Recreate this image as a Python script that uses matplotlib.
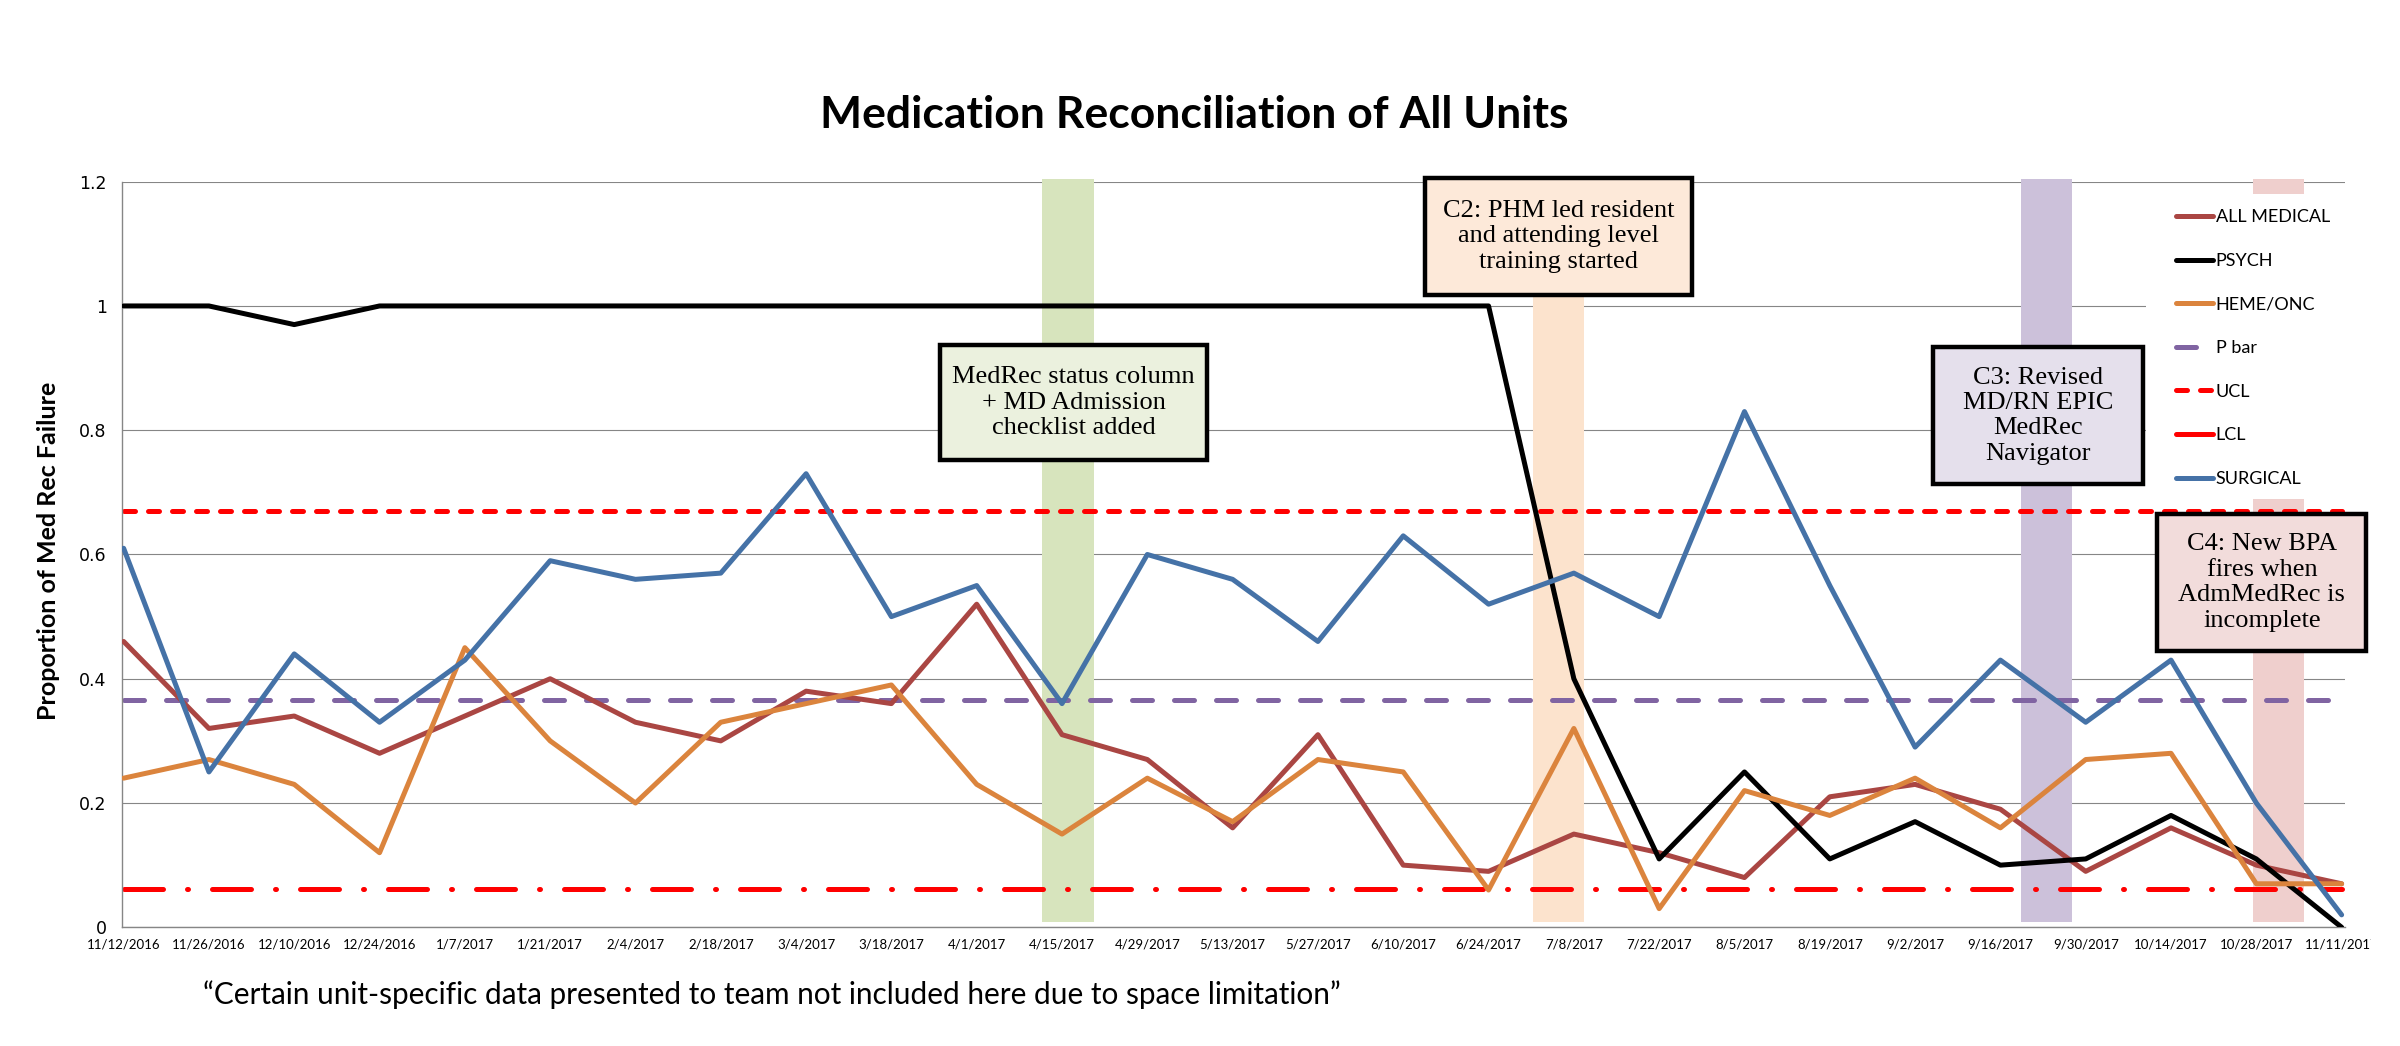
import matplotlib
matplotlib.use("Agg")
import matplotlib.pyplot as plt
from matplotlib.patches import Rectangle
from matplotlib.transforms import Bbox, TransformedBbox
import numpy as np

# biweekly periods
dates = ["11/12/2016", "11/26/2016", "12/10/2016", "12/24/2016", "1/7/2017",
         "1/21/2017", "2/4/2017", "2/18/2017", "3/4/2017", "3/18/2017",
         "4/1/2017", "4/15/2017", "4/29/2017", "5/13/2017", "5/27/2017",
         "6/10/2017", "6/24/2017", "7/8/2017", "7/22/2017", "8/5/2017",
         "8/19/2017", "9/2/2017", "9/16/2017", "9/30/2017", "10/14/2017",
         "10/28/2017", "11/11/2017"]

all_medical = [0.46, 0.32, 0.34, 0.28, 0.34, 0.40, 0.33, 0.30, 0.38, 0.36,
               0.52, 0.31, 0.27, 0.16, 0.31, 0.10, 0.09, 0.15, 0.12, 0.08,
               0.21, 0.23, 0.19, 0.09, 0.16, 0.10, 0.07]
psych = [1.0, 1.0, 0.97, 1.0, 1.0, 1.0, 1.0, 1.0, 1.0, 1.0,
         1.0, 1.0, 1.0, 1.0, 1.0, 1.0, 1.0, 0.40, 0.11, 0.25,
         0.11, 0.17, 0.10, 0.11, 0.18, 0.11, 0.0]
heme_onc = [0.24, 0.27, 0.23, 0.12, 0.45, 0.30, 0.20, 0.33, 0.36, 0.39,
            0.23, 0.15, 0.24, 0.17, 0.27, 0.25, 0.06, 0.32, 0.03, 0.22,
            0.18, 0.24, 0.16, 0.27, 0.28, 0.07, 0.07]
surgical = [0.61, 0.25, 0.44, 0.33, 0.43, 0.59, 0.56, 0.57, 0.73, 0.50,
            0.55, 0.36, 0.60, 0.56, 0.46, 0.63, 0.52, 0.57, 0.50, 0.83,
            0.55, 0.29, 0.43, 0.33, 0.43, 0.20, 0.02]
p_bar = 0.366
ucl = 0.67
lcl = 0.062

ytick_labels = ["0", "0.2", "0.4", "0.6", "0.8", "1", "1.2"]

# intervention markers (category position of the shaded column)
interventions = [11.07, 16.82, 22.54, 25.26]
span_colors = ["#D7E4BD", "#FCE3CD", "#CCC1DA", "#EFCFCD"]

notes = [
    "MedRec status column\n+ MD Admission\nchecklist added",
    "C2: PHM led resident\nand attending level\ntraining started",
    "C3: Revised\nMD/RN EPIC\nMedRec\nNavigator",
    "C4: New BPA\nfires when\nAdmMedRec is\nincomplete",
]
# (x0, y0, x1, y1) in data units
note_boxes = [(9.57, 0.752, 12.70, 0.937),
              (15.25, 1.018, 18.39, 1.206),
              (21.21, 0.713, 23.67, 0.934),
              (23.84, 0.445, 26.29, 0.665)]
note_faces = ["#EBF1DE", "#FDE9D9", "#E5E0EC", "#F2DCDB"]

fig = plt.figure(figsize=(24, 10.46), dpi=100)
ax = fig.add_axes([0.0508, 0.1135, 0.9263, 0.7128])

x = np.arange(len(dates))
lw = 3.6

for cx, col in zip(interventions, span_colors):
    ax.add_patch(Rectangle((cx - 0.3, 0.008), 0.6, 1.196, facecolor=col,
                           edgecolor="none", zorder=1, clip_on=False))

ax.plot(x, all_medical, color="#AA4643", lw=lw, label="ALL MEDICAL",
        solid_joinstyle="round", solid_capstyle="round", zorder=3)
ax.plot(x, psych, color="black", lw=lw, label="PSYCH",
        solid_joinstyle="round", solid_capstyle="round", zorder=3)
ax.plot(x, heme_onc, color="#DB843D", lw=lw, label="HEME/ONC",
        solid_joinstyle="round", solid_capstyle="round", zorder=3)
ax.plot(x, np.full(len(x), p_bar), color="#8064A2", lw=lw, label="P bar",
        linestyle=(0, (4.0, 4.4)), dash_capstyle="round", zorder=2.5)
ax.plot(x, np.full(len(x), ucl), color="#FF0000", lw=lw, label="UCL",
        linestyle=(0, (2.2, 2.6)), dash_capstyle="round", zorder=2.5)
ax.plot(x, np.full(len(x), lcl), color="#FF0000", lw=lw, label="LCL",
        linestyle=(0, (7.8, 4.8, 0.2, 4.8)), dash_capstyle="round", zorder=2.5)
ax.plot(x, surgical, color="#4572A7", lw=lw, label="SURGICAL",
        solid_joinstyle="round", solid_capstyle="round", zorder=3)

ax.set_xlim(-0.02, 26.04)
ax.set_ylim(0, 1.2)
ax.set_yticks(np.arange(0, 1.21, 0.2))
ax.set_yticklabels(ytick_labels, family="DejaVu Sans", fontsize=12.5)
ax.set_xticks(x)
ax.set_xticklabels(dates, family="Lato", fontsize=9.5)
ax.tick_params(axis="both", length=0)
ax.tick_params(axis="y", pad=11)
ax.tick_params(axis="x", pad=8)

ax.set_axisbelow(True)
ax.yaxis.grid(True, color="#868686", lw=0.8)
for s in ["top", "right"]:
    ax.spines[s].set_visible(False)
for s in ["left", "bottom"]:
    ax.spines[s].set_color("#868686")
    ax.spines[s].set_linewidth(1.0)

# last date label is cut off in the original
last = ax.get_xticklabels()[-1]
last.set_clip_box(TransformedBbox(Bbox([[-0.1, -1.0], [1.0118, 2.0]]), ax.transAxes))
last.set_clip_on(True)

# white legend background
ax.add_patch(Rectangle((23.71, 0.689), 2.5, 0.491, facecolor="white",
                       edgecolor="none", zorder=1.5, clip_on=False))
leg = ax.legend(loc="upper left", bbox_to_anchor=(0.9067, 0.800),
                bbox_transform=fig.transFigure, frameon=False,
                prop={"family": "Lato", "size": 13}, borderpad=0,
                borderaxespad=0, handlelength=2.05, handletextpad=0.15,
                labelspacing=1.53)
leg.set_zorder(5)

for (x0, y0, x1, y1), txt, fc in zip(note_boxes, notes, note_faces):
    ax.add_patch(Rectangle((x0, y0), x1 - x0, y1 - y0, facecolor=fc,
                           edgecolor="black", lw=3.2, zorder=6, clip_on=False))
    ax.text((x0 + x1) / 2, (y0 + y1) / 2, txt, ha="center", va="center",
            multialignment="center", family="Liberation Serif", fontsize=19,
            linespacing=1.2, zorder=7, clip_on=False)

fig.text(0.4975, 0.890, "Medication Reconciliation of All Units",
         ha="center", va="center", family="Lato", fontweight="bold", fontsize=32)
fig.text(0.0204, 0.4732, "Proportion of Med Rec Failure", rotation=90,
         ha="center", va="center", family="Lato", fontweight="bold", fontsize=18)
fig.text(0.3217, 0.0488,
         "\u201cCertain unit-specific data presented to team not included here due to space limitation\u201d",
         ha="center", va="center", family="Lato", fontsize=21.4)

fig.savefig("out.png", dpi=100)
